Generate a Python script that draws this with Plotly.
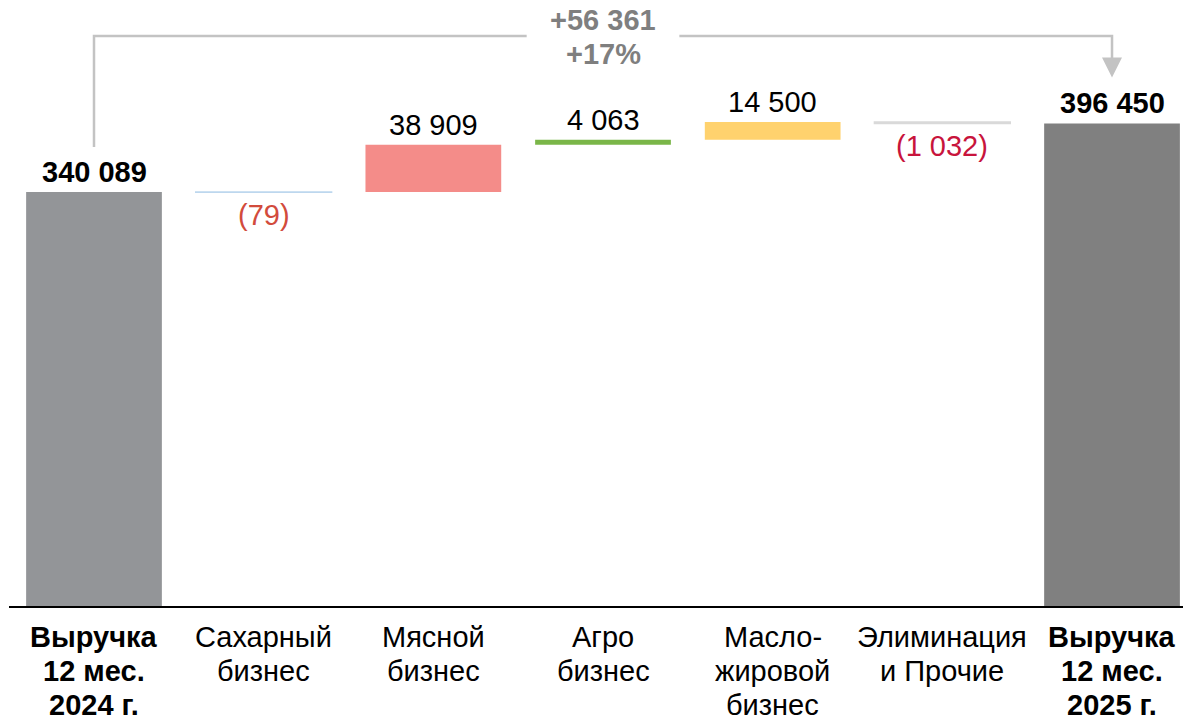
import plotly.graph_objects as go

# ---- data ----
categories = [["Выручка", "12 мес.", "2024 г."], ["Сахарный", "бизнес"], ["Мясной", "бизнес"],
              ["Агро", "бизнес"], ["Масло-", "жировой", "бизнес"], ["Элиминация", "и Прочие"],
              ["Выручка", "12 мес.", "2025 г."]]
start_total = 340089
deltas = [-79, 38909, 4063, 14500, -1032]
end_total = 396450
change_label = "+56 361"
change_pct = "+17%"

bar_colors = ["#939598", "#bdd7ee", "#f48c89", "#7ab648", "#ffd26e", "#d9d9d9", "#808080"]
neg_label_colors = {1: "#d24b3c", 5: "#c8143c"}

# ---- geometry ----
W, H = 1183, 720
BASE_PX = 606
YMAX = 497800
px_per_val = BASE_PX / YMAX
FONT = "Arial, Liberation Sans, sans-serif"
FS = 29


def fmt(v):
    s = f"{abs(v):,}".replace(",", " ")
    return f"({s})" if v < 0 else s


bases = [0]
heights = [start_total]
running = start_total
for d in deltas:
    if d >= 0:
        bases.append(running)
        heights.append(d)
    else:
        bases.append(running + d)
        heights.append(-d)
    running += d
bases.append(0)
heights.append(end_total)

xs = list(range(len(categories)))
last = len(categories) - 1
line_w = [0, 1.6, 0, 0, 0, 1.6, 0]

fig = go.Figure()
fig.add_trace(go.Bar(
    x=xs, y=heights, base=bases, width=0.8,
    marker=dict(color=bar_colors, line=dict(color=bar_colors, width=line_w)),
    hoverinfo="skip", showlegend=False,
))

# value labels
all_vals = [start_total] + deltas + [end_total]
for i, v in enumerate(all_vals):
    top = bases[i] + heights[i]
    bold = i in (0, last)
    if v >= 0 or bold:
        fig.add_annotation(x=i, y=top, text=(f"<b>{fmt(v)}</b>" if bold else fmt(v)),
                           showarrow=False, yanchor="middle", yshift=20,
                           font=dict(family=FONT, size=FS, color="#000000"))
    else:
        fig.add_annotation(x=i, y=bases[i], text=fmt(v), showarrow=False,
                           yanchor="middle", yshift=-23,
                           font=dict(family=FONT, size=FS, color=neg_label_colors.get(i, "#c00000")))

# category labels (one annotation per line)
for i, lines in enumerate(categories):
    bold = i in (0, last)
    for j, ln in enumerate(lines):
        fig.add_annotation(x=i, y=0, xref="x", yref="paper", showarrow=False,
                           text=(f"<b>{ln}</b>" if bold else ln),
                           yanchor="middle", yshift=-(31 + 34 * j),
                           font=dict(family=FONT, size=FS, color="#000000"))

# bracket
off_left = 45 / px_per_val
off_tip = 46 / px_per_val
top_y = (BASE_PX - 36) / px_per_val
gray = "#c3c3c3"
mid = last / 2
gap = 0.45
fig.add_shape(type="path", xref="x", yref="y",
              path=f"M 0 {start_total + off_left} L 0 {top_y} L {mid - gap} {top_y}",
              line=dict(color=gray, width=2.5))
fig.add_shape(type="path", xref="x", yref="y",
              path=f"M {mid + gap} {top_y} L {last} {top_y} L {last} {end_total + off_tip + 12 / px_per_val}",
              line=dict(color=gray, width=2.5))
fig.add_annotation(x=last, y=end_total + off_tip, ax=last, ay=end_total + off_tip + 14 / px_per_val,
                   xref="x", yref="y", axref="x", ayref="y", text="",
                   showarrow=True, arrowhead=2, arrowsize=1.6, arrowwidth=2.5, arrowcolor=gray)
fig.add_annotation(x=mid, y=top_y, text=f"<b>{change_label}</b>", showarrow=False,
                   yanchor="middle", yshift=16,
                   font=dict(family=FONT, size=FS, color="#7f7f7f"))
fig.add_annotation(x=mid, y=top_y, text=f"<b>{change_pct}</b>", showarrow=False,
                   yanchor="middle", yshift=-18,
                   font=dict(family=FONT, size=FS, color="#7f7f7f"))

x0 = -(94 - 9) / 169.67
x1 = x0 + (W - 9) / 169.67
fig.update_layout(
    width=W, height=H,
    margin=dict(l=9, r=0, t=0, b=H - BASE_PX, autoexpand=False),
    plot_bgcolor="white", paper_bgcolor="white",
    xaxis=dict(range=[x0, x1], showticklabels=False, automargin=False,
               showline=True, linecolor="#000000", linewidth=2, showgrid=False, zeroline=False,
               ticks="", fixedrange=True),
    yaxis=dict(range=[0, YMAX], visible=False, showgrid=False, zeroline=False, fixedrange=True,
               automargin=False),
)
fig.write_html("out.html", config={"displayModeBar": False},
               post_script="document.body.style.margin='0';document.body.style.overflow='hidden';")
